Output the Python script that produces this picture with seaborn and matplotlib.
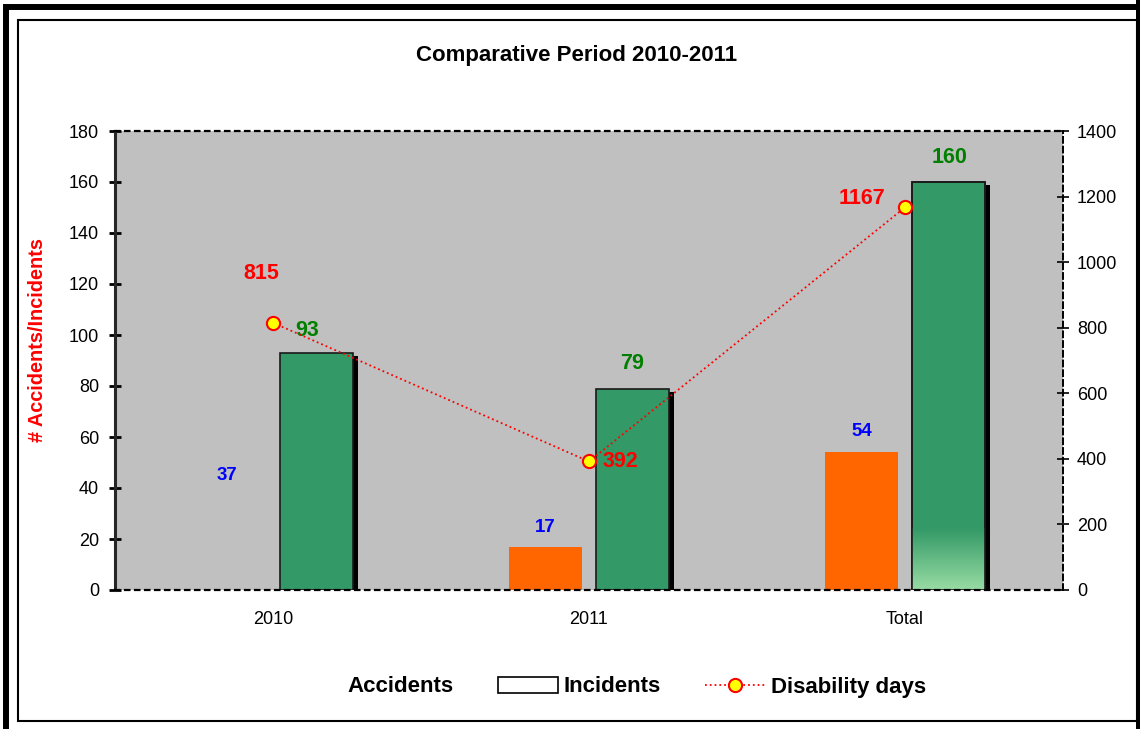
import numpy as np
import pandas as pd
import matplotlib
matplotlib.use('Agg')
import matplotlib.pyplot as plt
from matplotlib.patches import Rectangle
from matplotlib.lines import Line2D
import seaborn as sns

# Style
sns.set_style('white')
plt.rcParams['font.family'] = ['Liberation Sans', 'DejaVu Sans']
plt.rcParams['text.color'] = 'black'
plt.rcParams['axes.labelcolor'] = 'black'
plt.rcParams['xtick.color'] = 'black'
plt.rcParams['ytick.color'] = 'black'

# Data
periods = ['2010', '2011', 'Total']
accidents = [37, 17, 54]
incidents = [93, 79, 160]
disability_days = [815, 392, 1167]

df = pd.DataFrame({
    'period': periods * 2,
    'kind': ['Accidents'] * 3 + ['Incidents'] * 3,
    'count': accidents + incidents,
})

W, H = 1140, 729
fig = plt.figure(figsize=(W / 100, H / 100), dpi=100)
ax = fig.add_axes([115 / W, 1 - 590 / H, 948 / W, 459 / H])
ax.set_facecolor('#C0C0C0')

# bars
sns.barplot(data=df, x='period', y='count', hue='kind', order=periods,
            hue_order=['Accidents', 'Incidents'],
            palette=['#FF6600', '#339966'], width=0.55, gap=0.17,
            saturation=1, legend=False, ax=ax, zorder=3)

ax.set_xlim(-0.5, 2.5)
ax.set_ylim(0, 180)

# recolour: 2010 accidents bar is drawn in the background colour
acc_bars = ax.containers[0]
inc_bars = ax.containers[1]
for p in acc_bars:
    p.set_edgecolor('none')
acc_bars[0].set_facecolor('#C0C0C0')

dx = 5 / 948 * 3      # shadow offset, x in data units
dy = 3 / 459 * 180    # shadow offset, y in data units
for p in inc_bars:
    p.set_edgecolor('#1A1A1A')
    p.set_linewidth(1.2)
    x0, w, h = p.get_x(), p.get_width(), p.get_height()
    ax.add_patch(Rectangle((x0 + dx, 0), w, h - dy, facecolor='black',
                           edgecolor='none', zorder=2.5))

# light gradient at the bottom of the Total bar
tb = inc_bars[2]
x0, w = tb.get_x(), tb.get_width()
top_c = np.array(matplotlib.colors.to_rgb('#339966'))
bot_c = np.array(matplotlib.colors.to_rgb('#98DCA4'))
t = np.linspace(0, 1, 64)[:, None]
grad = (bot_c * (1 - t) + top_c * t)[:, None, :]
ax.imshow(grad, extent=(x0, x0 + w, 0, 24), origin='lower', aspect='auto',
          zorder=3.1, interpolation='bilinear')
ax.add_patch(Rectangle((x0, 0), w, tb.get_height(), facecolor='none',
                       edgecolor='#1A1A1A', lw=1.2, zorder=3.2))
ax.set_xlim(-0.5, 2.5)
ax.set_ylim(0, 180)

# axes cosmetics
ax.set_yticks(range(0, 181, 20))
ax.tick_params(axis='y', direction='inout', length=9, width=2, colors='black',
               labelsize=13, pad=7)
ax.set_xticks([0, 1, 2])
ax.set_xticklabels(periods)
ax.set_xticks([0.5, 1.5], minor=True)
ax.tick_params(axis='x', which='major', length=0, labelsize=13, pad=15)
ax.tick_params(axis='x', which='minor', direction='inout', length=12,
               width=1.5, color='#808080')
ax.set_xlabel('')
ax.set_ylabel('# Accidents/Incidents', color='red', fontsize=14.3,
              fontweight='bold')
ax.yaxis.set_label_coords(-0.072, 0.545)
ax.spines['left'].set_linewidth(2.2)
ax.spines['right'].set_visible(False)
for s in ['top', 'bottom']:
    ax.spines[s].set_linestyle((0, (2, 2.5)))
    ax.spines[s].set_linewidth(1.6)
    ax.spines[s].set_color('black')
for s in ax.spines.values():
    s.set_zorder(10)

# disability days on the right axis
ax2 = ax.twinx()
sns.lineplot(x=[0, 1, 2], y=disability_days, ax=ax2, color='red',
             linestyle=':', lw=1.3, marker='o', markersize=9.5,
             markerfacecolor='#FFFF00', markeredgecolor='red',
             markeredgewidth=1.5, legend=False, zorder=5)
ax2.set_ylim(0, 1400)
ax2.set_xlim(-0.5, 2.5)
ax2.set_yticks(range(0, 1401, 200))
ax2.tick_params(axis='y', direction='inout', length=8, width=1.2,
                labelsize=13, pad=6)
for s in ['left', 'top', 'bottom']:
    ax2.spines[s].set_visible(False)
ax2.spines['right'].set_linestyle((0, (3, 2)))
ax2.spines['right'].set_linewidth(1.4)
ax2.spines['right'].set_color('black')

# value labels
red_pos = [(-0.038, 964), (1.101, 393), (1.864, 1193)]
green_pos = [(0.108, 101.6), (1.136, 89), (2.142, 169.8)]
blue_pos = [(-0.146, 45), (0.861, 24.7), (1.864, 62)]
for (x, y), v in zip(red_pos, disability_days):
    ax2.text(x, y, str(v), color='red', fontsize=15.5, fontweight='bold',
             ha='center', va='center', zorder=6)
for (x, y), v in zip(green_pos, incidents):
    ax.text(x, y, str(v), color='#008000', fontsize=15.5, fontweight='bold',
            ha='center', va='center', zorder=6)
for (x, y), v in zip(blue_pos, accidents):
    ax.text(x, y, str(v), color='#0000FF', fontsize=13.5, fontweight='bold',
            ha='center', va='center', zorder=6)

# title
fig.text(577 / W, 1 - 56 / H, 'Comparative Period 2010-2011', fontsize=16,
         fontweight='bold', ha='center', va='center')

# legend
handles = [
    Rectangle((0, 0), 1, 1, facecolor='none', edgecolor='none'),
    Rectangle((0, 0), 1, 1, facecolor='white', edgecolor='black', lw=1.2),
    Line2D([], [], color='red', linestyle=':', lw=1.3, marker='o',
           markersize=9.5, markerfacecolor='#FFFF00', markeredgecolor='red',
           markeredgewidth=1.5),
]
fig.legend(handles, ['Accidents', 'Incidents', 'Disability days'],
           loc='center', bbox_to_anchor=(604 / W, 1 - 687 / H), ncol=3,
           frameon=False, prop={'size': 16, 'weight': 'bold'},
           handlelength=2.7, handletextpad=0.25, columnspacing=2.0)

# figure frames
fig.add_artist(Rectangle((6 / W, -0.05), (1150 - 6) / W, 1.05 - 7.5 / H,
                         transform=fig.transFigure, fill=False,
                         edgecolor='black', lw=4.3))
fig.add_artist(Rectangle((18 / W, 1 - 721 / H), (1137 - 18) / W,
                         (721 - 20) / H, transform=fig.transFigure,
                         fill=False, edgecolor='black', lw=1.5))
fig.add_artist(Rectangle((1138 / W, -0.05), 0.05, 1.1,
                         transform=fig.transFigure, fill=False,
                         edgecolor='black', lw=3.6))

fig.savefig('out.png', dpi=100)
